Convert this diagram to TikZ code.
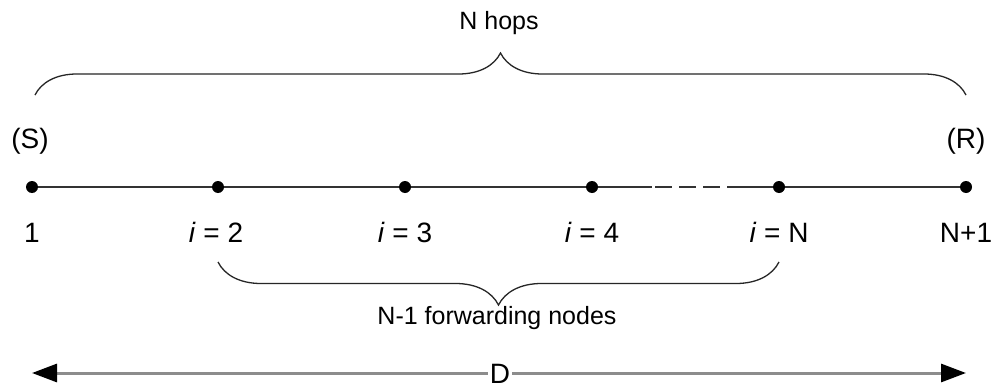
\documentclass[tikz,border=0pt]{standalone}
\usepackage{fontspec}
\setmainfont{Liberation Sans}
\usetikzlibrary{decorations.pathreplacing,arrows.meta}
\begin{document}
\begin{tikzpicture}[x=1pt,y=-1pt,
  pt/.style={circle,fill=black,inner sep=0pt,minimum size=12pt},
  lbl/.style={font=\fontsize{28}{32}\selectfont,inner sep=0pt,anchor=base},
  small/.style={font=\fontsize{25}{29}\selectfont,inner sep=0pt,anchor=base},
  brc/.style={decorate,line width=1.3pt,black!85},
  ln/.style={line width=1.6pt,black!80}]
\useasboundingbox[fill=white] (0,0) rectangle (994,388);
% points
\node[pt] (p1) at (32,187) {};
\node[pt] (p2) at (218,187) {};
\node[pt] (p3) at (405,187) {};
\node[pt] (p4) at (592,187) {};
\node[pt] (p5) at (779,187) {};
\node[pt] (p6) at (966,187) {};
\coordinate (d1) at (652,187);
\coordinate (d2) at (733,187);
\draw[ln] (p1) -- (p2) -- (p3) -- (p4) -- (d1);
\draw[ln,dash pattern=on 17pt off 7pt,dash phase=-3pt] (d1) -- (d2);
\draw[ln] (d2) -- (p5) -- (p6);
% labels
\node[lbl] (s) at (30,148) {(S)};
\node[lbl] (r) at (966,148) {(R)};
\node[lbl] (l1) at (32,242) {1};
\node[lbl] (l2) at (216,242) {\textit{i} = 2};
\node[lbl] (l3) at (405,242) {\textit{i} = 3};
\node[lbl] (l4) at (592,242) {\textit{i} = 4};
\node[lbl] (l5) at (779,242) {\textit{i} = N};
\node[lbl] (l6) at (966,242) {N+1};
% top brace
\coordinate (tb1) at (35,95);
\coordinate (tb2) at (966,95);
\draw[brc,decoration={brace,amplitude=42pt,aspect=0.5}] (tb1) -- (tb2);
\node[small] (nh) at (499,29) {N hops};
% bottom brace
\coordinate (bb1) at (779,262);
\coordinate (bb2) at (218,262);
\draw[brc,decoration={brace,amplitude=43pt,aspect=0.5}] (bb1) -- (bb2);
\node[small] (fw) at (497,324) {N-1 forwarding nodes};
% D arrow
\coordinate (a1) at (32,373);
\coordinate (a2) at (966,373);
\draw[line width=3pt,black!45,{Triangle[length=25pt,width=18pt,black]}-{Triangle[length=25pt,width=18pt,black]}] (a1) -- (a2);
\node[lbl,fill=white,inner xsep=2pt,inner ysep=0pt,anchor=base] (D) at (500,383) {D};
\end{tikzpicture}
\end{document}
